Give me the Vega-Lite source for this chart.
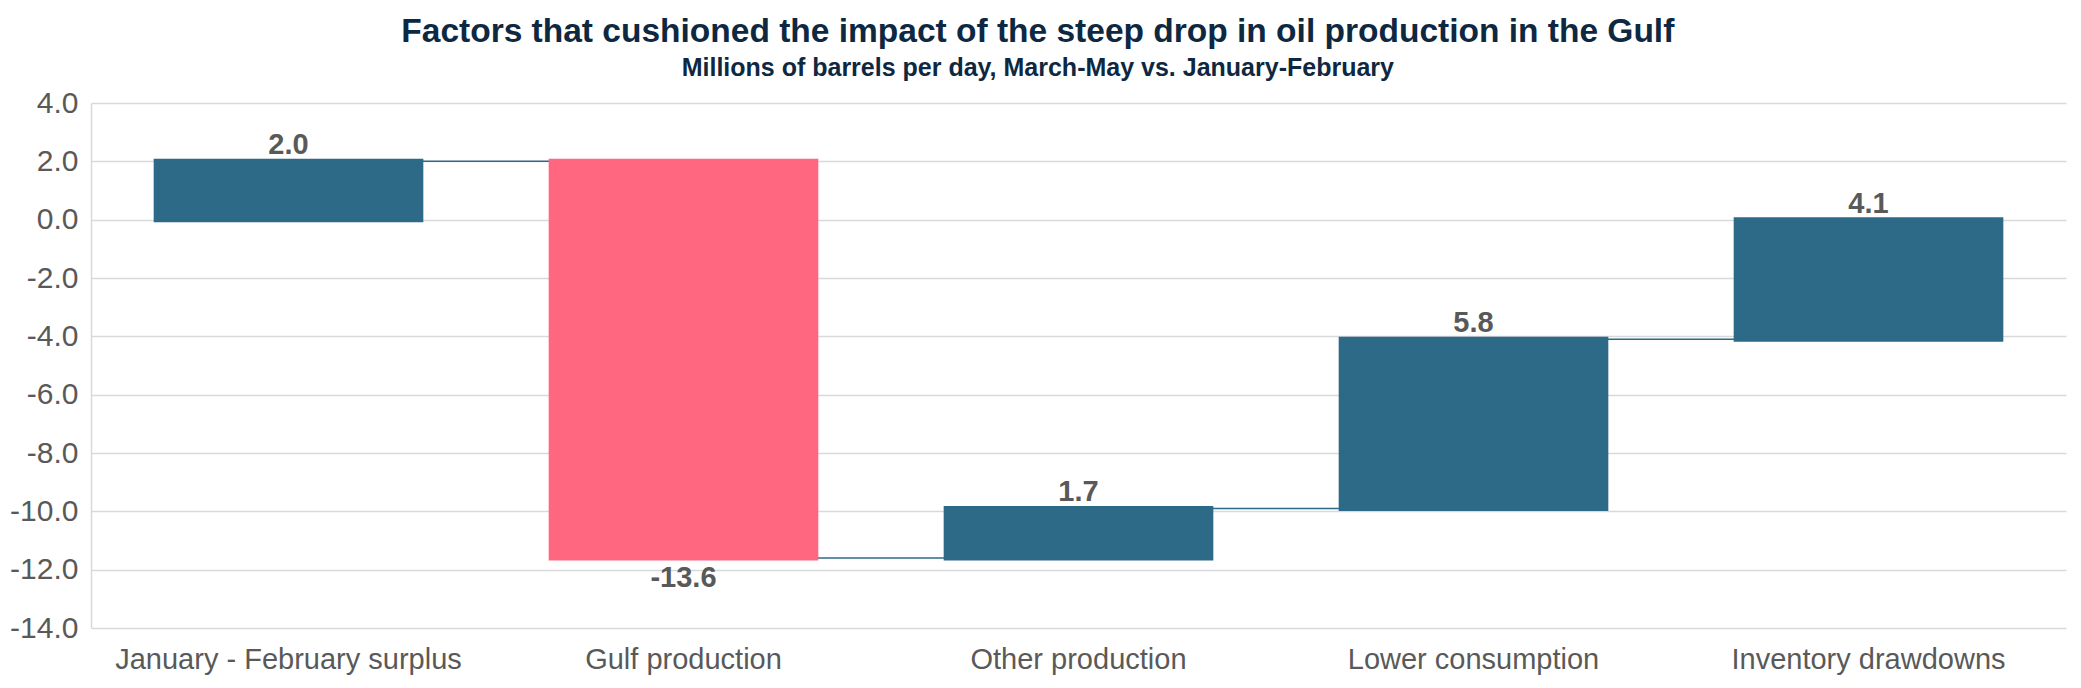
{
  "$schema": "https://vega.github.io/schema/vega-lite/v6.json",
  "width": 1975,
  "height": 525,
  "autosize": {"type": "none"},
  "padding": {"left": 91, "top": 103, "right": 15, "bottom": 60},
  "background": "white",
  "title": {
    "text": "Factors that cushioned the impact of the steep drop in oil production in the Gulf",
    "subtitle": "Millions of barrels per day, March-May vs. January-February",
    "anchor": "middle",
    "frame": "bounds",
    "font": "Liberation Sans",
    "fontSize": 33.5,
    "fontWeight": "bold",
    "color": "#0E2841",
    "subtitleFont": "Liberation Sans",
    "subtitleFontSize": 25,
    "subtitleFontWeight": "bold",
    "subtitleColor": "#0E2841",
    "subtitlePadding": 7,
    "offset": 6
  },
  "datasets": {
    "steps": [
      {"factor": "January - February surplus", "change": 2.0, "start": 0.0, "end": 2.0},
      {"factor": "Gulf production", "change": -13.6, "start": 2.0, "end": -11.6},
      {"factor": "Other production", "change": 1.7, "start": -11.6, "end": -9.9},
      {"factor": "Lower consumption", "change": 5.8, "start": -9.9, "end": -4.1},
      {"factor": "Inventory drawdowns", "change": 4.1, "start": -4.1, "end": 0.0}
    ],
    "links": [
      {"from": "January - February surplus", "to": "Gulf production", "level": 2.0},
      {"from": "Gulf production", "to": "Other production", "level": -11.6},
      {"from": "Other production", "to": "Lower consumption", "level": -9.9},
      {"from": "Lower consumption", "to": "Inventory drawdowns", "level": -4.1}
    ]
  },
  "layer": [
    {
      "data": {"name": "links"},
      "mark": {"type": "rule", "color": "#2D6A88", "strokeWidth": 1.5},
      "encoding": {
        "x": {
          "field": "from",
          "type": "nominal",
          "sort": null,
          "scale": {
            "domain": ["January - February surplus", "Gulf production", "Other production", "Lower consumption", "Inventory drawdowns"],
            "paddingInner": 0.33,
            "paddingOuter": 0.165
          },
          "axis": {
            "title": null,
            "labelAngle": 0,
            "labelLimit": 0,
            "labelFont": "Liberation Sans",
            "labelFontSize": 29,
            "labelColor": "#595959",
            "labelPadding": 17,
            "ticks": false,
            "domain": false,
            "grid": false
          }
        },
        "x2": {"field": "to"},
        "y": {
          "field": "level",
          "type": "quantitative",
          "scale": {"domain": [-14, 4], "nice": false, "zero": false},
          "axis": {
            "title": null,
            "values": [-14, -12, -10, -8, -6, -4, -2, 0, 2, 4],
            "format": ".1f",
            "labelFont": "Liberation Sans",
            "labelFontSize": 30,
            "labelColor": "#595959",
            "labelPadding": 13,
            "ticks": false,
            "domain": true,
            "domainColor": "#D9D9D9",
            "domainWidth": 1.5,
            "grid": true,
            "gridColor": "#D9D9D9",
            "gridWidth": 1.5
          }
        }
      }
    },
    {
      "data": {"name": "steps"},
      "mark": {"type": "bar", "strokeWidth": 5},
      "encoding": {
        "x": {"field": "factor", "type": "nominal", "sort": null},
        "y": {"field": "start", "type": "quantitative"},
        "y2": {"field": "end"},
        "color": {"condition": {"test": "datum.change < 0", "value": "#FF6680"}, "value": "#2D6A88"},
        "stroke": {"condition": {"test": "datum.change < 0", "value": "#FF6680"}, "value": "#2D6A88"}
      }
    },
    {
      "data": {"name": "steps"},
      "transform": [{"filter": "datum.change > 0"}],
      "mark": {"type": "text", "baseline": "alphabetic", "dy": -7, "font": "Liberation Sans", "fontSize": 29, "fontWeight": "bold", "color": "#595959"},
      "encoding": {
        "x": {"field": "factor", "type": "nominal", "sort": null},
        "y": {"field": "end", "type": "quantitative"},
        "text": {"field": "change", "type": "quantitative", "format": ".1f"}
      }
    },
    {
      "data": {"name": "steps"},
      "transform": [{"filter": "datum.change < 0"}],
      "mark": {"type": "text", "baseline": "top", "dy": 6, "font": "Liberation Sans", "fontSize": 29, "fontWeight": "bold", "color": "#595959"},
      "encoding": {
        "x": {"field": "factor", "type": "nominal", "sort": null},
        "y": {"field": "end", "type": "quantitative"},
        "text": {"field": "change", "type": "quantitative", "format": ".1f"}
      }
    }
  ],
  "config": {
    "view": {"stroke": null},
    "locale": {
      "number": {"decimal": ".", "thousands": ",", "grouping": [3], "currency": ["$", ""], "minus": "-"}
    }
  }
}
